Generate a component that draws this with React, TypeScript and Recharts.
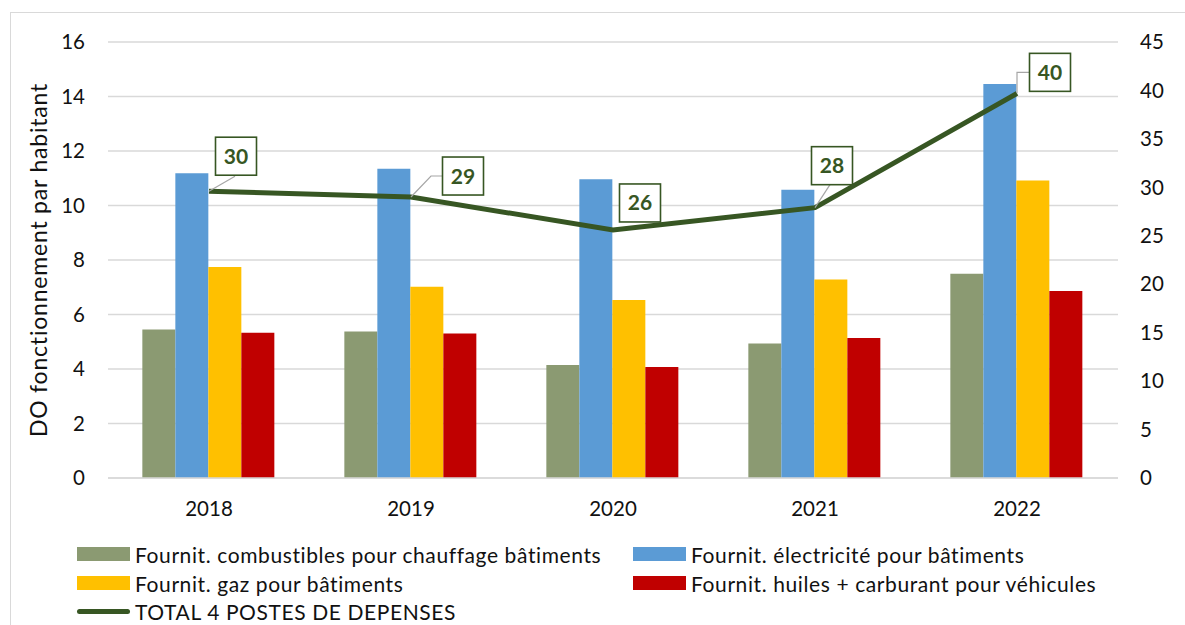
import React from 'react';
import { ComposedChart, Bar, Line, XAxis, YAxis, CartesianGrid, LabelList } from 'recharts';

const years = ['2018', '2019', '2020', '2021', '2022'];
const combustibles = [5.45, 5.38, 4.15, 4.94, 7.5];
const electricite = [11.18, 11.35, 10.96, 10.58, 14.46];
const gaz = [7.74, 7.02, 6.53, 7.28, 10.92];
const huiles = [5.33, 5.3, 4.07, 5.14, 6.86];
const total = [29.6, 29.0, 25.6, 27.9, 39.7];

const leftTicks = [0, 2, 4, 6, 8, 10, 12, 14, 16];
const rightTicks = [0, 5, 10, 15, 20, 25, 30, 35, 40, 45];

const FONT = 'Lato, "Open Sans", sans-serif';
const GREEN = '#8b9a72';
const BLUE = '#5b9bd5';
const YELLOW = '#ffc000';
const RED = '#c00000';
const DARK = '#375623';
const GRID = '#d9d9d9';

// where each total label box sits relative to its point, plus leader line path
const labelPlacement = [
  { dx: 27, dy: -35, leader: [[0, 0], [26, -15]] },
  { dx: 52, dy: -21, leader: [[0, 0], [20, -21], [32, -21]] },
  { dx: 27, dy: -27, leader: [] },
  { dx: 17, dy: -42, leader: [[0, 0], [15, -23]] },
  { dx: 33, dy: -21, leader: [[0, 0], [0, -21], [13, -21]] },
];

const data = years.map((year, i) => ({
  year,
  combustibles: combustibles[i],
  electricite: electricite[i],
  gaz: gaz[i],
  huiles: huiles[i],
  total: total[i],
}));

const TotalLabel = (props: any) => {
  const { x, y, value, index } = props;
  const p = labelPlacement[index];
  if (!p) return null;
  const w = 41;
  const h = 38;
  const cx = x + p.dx;
  const cy = y + p.dy;
  const pts = p.leader.map(([a, b]: number[]) => `${x + a},${y + b}`).join(' ');
  return (
    <g>
      {p.leader.length > 0 && <polyline points={pts} fill="none" stroke="#a6a6a6" strokeWidth={1.2} />}
      <rect x={cx - w / 2} y={cy - h / 2} width={w} height={h} fill="#fff" stroke={DARK} strokeWidth={1.6} />
      <text x={cx} y={cy + 7.5} textAnchor="middle" fontFamily={FONT} fontWeight={700} fontSize={21} fill={DARK}>
        {Math.round(value)}
      </text>
    </g>
  );
};

const legendItems = [
  { label: 'Fournit. combustibles pour chauffage bâtiments', color: GREEN, left: 77, top: 554, type: 'rect' },
  { label: 'Fournit. électricité pour bâtiments', color: BLUE, left: 633, top: 554, type: 'rect' },
  { label: 'Fournit. gaz pour bâtiments', color: YELLOW, left: 77, top: 583, type: 'rect' },
  { label: 'Fournit. huiles + carburant pour véhicules', color: RED, left: 633, top: 583, type: 'rect' },
  { label: 'TOTAL 4 POSTES DE DEPENSES', color: DARK, left: 77, top: 611, type: 'line' },
];

export default function App() {
  return (
    <div style={{ position: 'fixed', left: 0, top: 0, width: 1185, height: 625, background: '#fff', overflow: 'hidden', fontFamily: FONT }}>
      <div style={{ position: 'absolute', left: 10, top: 12, width: 1300, height: 800, border: `1.5px solid ${GRID}` }} />
      <ComposedChart
        width={1185}
        height={625}
        data={data}
        margin={{ top: 42, right: 0, bottom: 117, left: 0 }}
        barGap={0}
        barCategoryGap="17%"
        style={{ position: 'absolute', left: 0, top: 0 }}
      >
        <CartesianGrid yAxisId="left" vertical={false} stroke={GRID} strokeWidth={1.5} />
        <XAxis
          dataKey="year"
          height={30}
          axisLine={{ stroke: GRID, strokeWidth: 1.5 }}
          tickLine={false}
          tickSize={0}
          tickMargin={23}
          tick={{ fill: '#111', fontSize: 20.5, fontFamily: FONT }}
        />
        <YAxis
          yAxisId="left"
          width={108}
          domain={[0, 16]}
          ticks={leftTicks}
          axisLine={false}
          tickLine={false}
          tickSize={0}
          tickMargin={23}
          tick={{ fill: '#111', fontSize: 20.5, fontFamily: FONT }}
          label={{
            content: (lp: any) => {
              const vb = lp.viewBox;
              const cx = 38;
              const cy = vb.y + vb.height / 2;
              return (
                <text x={cx} y={cy} transform={`rotate(-90, ${cx}, ${cy})`} textAnchor="middle" dominantBaseline="central" fontFamily={FONT} fontSize={23} letterSpacing={0.8} fill="#111">
                  DO fonctionnement par habitant
                </text>
              );
            },
          }}
        />
        <YAxis
          yAxisId="right"
          orientation="right"
          width={67}
          domain={[0, 45]}
          ticks={rightTicks}
          axisLine={false}
          tickLine={false}
          tickSize={0}
          tickMargin={22}
          tick={{ fill: '#111', fontSize: 20.5, fontFamily: FONT, textAnchor: 'start' }}
        />
        <Bar yAxisId="left" dataKey="combustibles" fill={GREEN} isAnimationActive={false} />
        <Bar yAxisId="left" dataKey="electricite" fill={BLUE} isAnimationActive={false} />
        <Bar yAxisId="left" dataKey="gaz" fill={YELLOW} isAnimationActive={false} />
        <Bar yAxisId="left" dataKey="huiles" fill={RED} isAnimationActive={false} />
        <Line
          yAxisId="right"
          type="linear"
          dataKey="total"
          stroke={DARK}
          strokeWidth={5}
          dot={false}
          activeDot={false}
          isAnimationActive={false}
        >
          <LabelList dataKey="total" content={TotalLabel} />
        </Line>
      </ComposedChart>
      {legendItems.map((it) => (
        <div
          key={it.label}
          style={{ position: 'absolute', left: it.left, top: it.top - 13, height: 26, display: 'flex', alignItems: 'center', whiteSpace: 'nowrap' }}
        >
          {it.type === 'rect' ? (
            <div style={{ width: 53, height: 14, background: it.color }} />
          ) : (
            <div style={{ width: 53, height: 5, background: it.color, borderRadius: 3 }} />
          )}
          <span style={{ marginLeft: 5, fontSize: 21, letterSpacing: 0.6, color: '#111' }}>{it.label}</span>
        </div>
      ))}
    </div>
  );
}
